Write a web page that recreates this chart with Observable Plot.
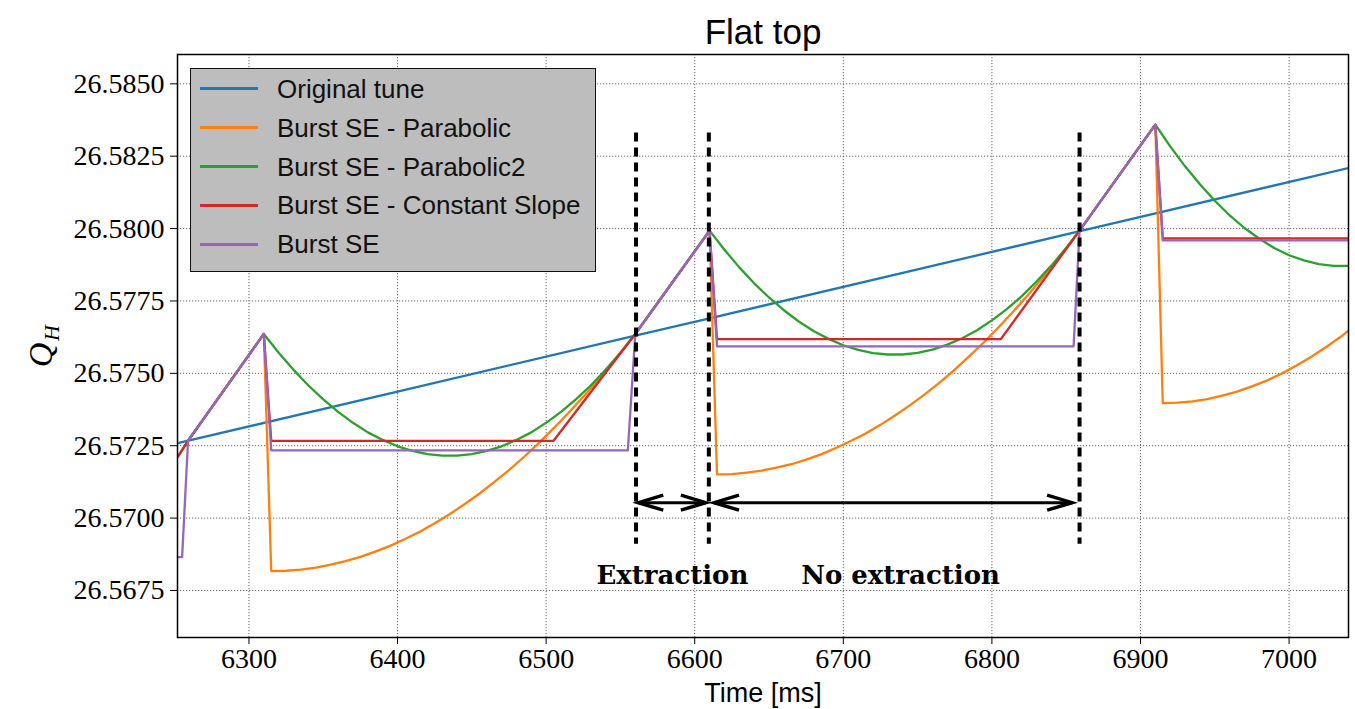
<!DOCTYPE html>
<html><head><meta charset="utf-8">
<script src="https://cdn.jsdelivr.net/npm/d3@7"></script>
<script src="https://cdn.jsdelivr.net/npm/@observablehq/plot@0.6"></script>
<style>
body{margin:0;background:#fff;}
#wrap{position:relative;width:1355px;height:709px;overflow:hidden;}
#legend{position:absolute;left:190px;top:68px;width:406px;height:204px;background:#bdbdbd;border:1.6px solid #111;box-sizing:border-box;font-family:"Liberation Sans",sans-serif;font-size:26px;color:#111;}
.sw{position:absolute;left:9px;width:58px;height:2.6px;}
.lab{position:absolute;left:86px;white-space:nowrap;line-height:1;transform:translateY(-50%);}
</style></head><body><div id="wrap"></div>
<script>
// ---- data ----
const xDomain = [6251.9, 7040];
const yDomain = [26.565875, 26.586013];
const xTicks = [6300, 6400, 6500, 6600, 6700, 6800, 6900, 7000];
const yTicks = [26.5675, 26.5700, 26.5725, 26.5750, 26.5775, 26.5800, 26.5825, 26.5850];

const seriesNames = ["Original tune", "Burst SE - Parabolic", "Burst SE - Parabolic2", "Burst SE - Constant Slope", "Burst SE"];
const seriesColors = ["#1f77b4", "#ff7f0e", "#2ca02c", "#d62728", "#9467bd"];

const tOriginal = [6252, 6400, 6560, 6610, 6860, 7040];
const qOriginal = [26.57259, 26.57437, 26.57630, 26.57690, 26.57992, 26.58209];

const tParabolic = [6252, 6259, 6310,
  6315, 6325, 6335, 6345, 6355, 6365, 6375, 6385, 6395, 6405, 6415, 6425, 6435, 6445, 6455, 6465, 6475, 6485, 6495, 6505, 6515, 6525, 6535, 6545, 6555, 6560,
  6610,
  6615, 6625, 6635, 6645, 6655, 6665, 6675, 6685, 6695, 6705, 6715, 6725, 6735, 6745, 6755, 6765, 6775, 6785, 6795, 6805, 6815, 6825, 6835, 6845, 6855, 6859,
  6910,
  6915, 6925, 6935, 6945, 6955, 6965, 6975, 6985, 6995, 7005, 7015, 7025, 7035, 7040];
const qParabolic = [26.57211, 26.57267, 26.57636,
  26.56817, 26.56818, 26.56822, 26.56829, 26.56839, 26.56851, 26.56866, 26.56884, 26.56904, 26.56928, 26.56953, 26.56982, 26.57013, 26.57048, 26.57084, 26.57124, 26.57166, 26.57211, 26.57259, 26.57310, 26.57363, 26.57419, 26.57477, 26.57539, 26.57603, 26.57636,
  26.57993,
  26.57151, 26.57152, 26.57157, 26.57164, 26.57174, 26.57186, 26.57202, 26.57220, 26.57242, 26.57266, 26.57292, 26.57322, 26.57355, 26.57390, 26.57428, 26.57469, 26.57513, 26.57560, 26.57609, 26.57662, 26.57717, 26.57775, 26.57836, 26.57899, 26.57966, 26.57993,
  26.58359,
  26.57397, 26.57399, 26.57403, 26.57411, 26.57423, 26.57437, 26.57455, 26.57475, 26.57499, 26.57527, 26.57557, 26.57591, 26.57627, 26.57647];

const tParabolic2 = [6252, 6259, 6310,
  6320, 6330, 6340, 6350, 6360, 6370, 6380, 6390, 6400, 6410, 6420, 6430, 6440, 6450, 6460, 6470, 6480, 6490, 6500, 6510, 6520, 6530, 6540, 6550, 6560,
  6610,
  6620, 6630, 6640, 6650, 6660, 6670, 6680, 6690, 6700, 6710, 6720, 6730, 6740, 6750, 6760, 6770, 6780, 6790, 6800, 6810, 6820, 6830, 6840, 6850, 6859,
  6910,
  6920, 6930, 6940, 6950, 6960, 6970, 6980, 6990, 7000, 7010, 7020, 7030, 7040];
const qParabolic2 = [26.57211, 26.57267, 26.57636,
  26.57571, 26.57512, 26.57458, 26.57410, 26.57367, 26.57329, 26.57296, 26.57270, 26.57248, 26.57232, 26.57221, 26.57216, 26.57216, 26.57221, 26.57232, 26.57248, 26.57270, 26.57296, 26.57329, 26.57367, 26.57410, 26.57458, 26.57512, 26.57571, 26.57636,
  26.57993,
  26.57927, 26.57866, 26.57811, 26.57762, 26.57718, 26.57679, 26.57646, 26.57619, 26.57597, 26.57581, 26.57570, 26.57565, 26.57565, 26.57571, 26.57582, 26.57599, 26.57621, 26.57649, 26.57683, 26.57722, 26.57766, 26.57817, 26.57872, 26.57933, 26.57993,
  26.58359,
  26.58284, 26.58215, 26.58153, 26.58096, 26.58046, 26.58002, 26.57965, 26.57933, 26.57908, 26.57890, 26.57877, 26.57871, 26.57871];

const tConstSlope = [6252, 6259, 6310, 6315, 6505, 6560, 6610, 6615, 6806, 6859, 6910, 6915, 7040];
const qConstSlope = [26.57211, 26.57267, 26.57636, 26.57267, 26.57267, 26.57636, 26.57993, 26.57618, 26.57618, 26.57993, 26.58359, 26.57966, 26.57966];

const tBurst = [6252, 6255, 6259, 6310, 6315, 6555, 6560, 6610, 6615, 6855, 6859, 6910, 6915, 7040];
const qBurst = [26.56865, 26.56865, 26.57267, 26.57636, 26.57234, 26.57234, 26.57636, 26.57993, 26.57593, 26.57593, 26.57993, 26.58359, 26.57959, 26.57959];

const markerTimes = [6560.5, 6609.5, 6859];
const markerTop = 26.5833, markerBottom = 26.5691;

const arrowStart = [6562, 6613];
const arrowEnd = [6607.5, 6854];
const arrowLevel = 26.57053;

const annotTexts = ["Extraction", "No extraction"];
const annotTimes = [6585, 6738.5];
const annotLevel = 26.56772;

// ---- build tables ----
const seriesT = [tOriginal, tParabolic, tParabolic2, tConstSlope, tBurst];
const seriesQ = [qOriginal, qParabolic, qParabolic2, qConstSlope, qBurst];
const rows = [];
seriesNames.forEach((s, i) => seriesT[i].forEach((t, j) => rows.push({s, t, q: seriesQ[i][j]})));

const arrows = arrowStart.map((a, i) => ({x1: a, x2: arrowEnd[i], y: arrowLevel}));
const heads = arrows.flatMap(a => [{x: a.x1, y: a.y, r: 180}, {x: a.x2, y: a.y, r: 0}]);
const annots = annotTexts.map((text, i) => ({text, x: annotTimes[i], y: annotLevel}));

const chevron = {draw(ctx) { ctx.moveTo(-25, -7.5); ctx.lineTo(0, 0); ctx.lineTo(-25, 7.5); }};

const serif = "'Liberation Serif', 'DejaVu Serif', serif";
const sans = "'Liberation Sans', 'DejaVu Sans', sans-serif";

const chart = Plot.plot({
  width: 1355, height: 709,
  marginLeft: 177, marginRight: 7, marginTop: 54, marginBottom: 72,
  style: {fontFamily: serif, fontSize: "28px", background: "white", color: "black"},
  x: {domain: xDomain},
  y: {domain: yDomain},
  color: {domain: seriesNames, range: seriesColors},
  marks: [
    Plot.gridX(xTicks, {stroke: "#555", strokeOpacity: 1, strokeWidth: 0.9, strokeDasharray: "1.2,1.8"}),
    Plot.gridY(yTicks, {stroke: "#555", strokeOpacity: 1, strokeWidth: 0.9, strokeDasharray: "1.2,1.8"}),
    Plot.line(rows, {x: "t", y: "q", z: "s", stroke: "s", strokeWidth: 2.3, clip: true}),
    Plot.ruleX(markerTimes, {y1: markerTop, y2: markerBottom, stroke: "black", strokeWidth: 4, strokeDasharray: "9,6"}),
    Plot.link(arrows, {x1: "x1", x2: "x2", y1: "y", y2: "y", stroke: "black", strokeWidth: 3}),
    Plot.dot(heads, {x: "x", y: "y", rotate: "r", symbol: chevron, fill: "none", stroke: "black", strokeWidth: 3.4, strokeLinejoin: "miter"}),
    Plot.text(annots, {x: "x", y: "y", text: "text", lineAnchor: "bottom", fontFamily: "'DejaVu Serif', serif", fontWeight: "bold", fontSize: 26, fill: "black"}),
    Plot.frame({stroke: "black", strokeWidth: 1.5}),
    Plot.axisX({ticks: xTicks, tickSize: 7, tickPadding: 4, tickFormat: d3.format("d"), label: null, fontSize: 28}),
    Plot.axisY({ticks: yTicks, tickSize: 7, tickPadding: 6, tickFormat: d3.format(".4f"), label: null, fontSize: 28}),
    Plot.text(["Flat top"], {frameAnchor: "top", dy: -11, lineAnchor: "bottom", fontFamily: sans, fontSize: 35, fill: "black"}),
    Plot.text(["Time [ms]"], {frameAnchor: "bottom", dy: 64, lineAnchor: "bottom", fontFamily: sans, fontSize: 27, fill: "black"}),
    Plot.text(["Q"], {frameAnchor: "left", textAnchor: "middle", lineAnchor: "middle", rotate: -90, dx: -136, dy: 9, fontFamily: serif, fontStyle: "italic", fontSize: 34, fill: "black"}),
    Plot.text(["H"], {frameAnchor: "left", textAnchor: "middle", lineAnchor: "middle", rotate: -90, dx: -126, dy: -13, fontFamily: serif, fontStyle: "italic", fontSize: 22, fill: "black"})
  ]
});

const wrap = document.getElementById("wrap");
wrap.appendChild(chart);

// legend overlay
const legend = document.createElement("div");
legend.id = "legend";
const centers = [21.3, 60.3, 99.3, 138, 177];
seriesNames.forEach((name, i) => {
  const sw = document.createElement("div");
  sw.className = "sw";
  sw.style.top = (centers[i] - 1.6 - 1.3) + "px";
  sw.style.background = seriesColors[i];
  legend.appendChild(sw);
  const lab = document.createElement("div");
  lab.className = "lab";
  lab.style.top = (centers[i] - 1.6) + "px";
  lab.textContent = name;
  legend.appendChild(lab);
});
wrap.appendChild(legend);
</script></body></html>
